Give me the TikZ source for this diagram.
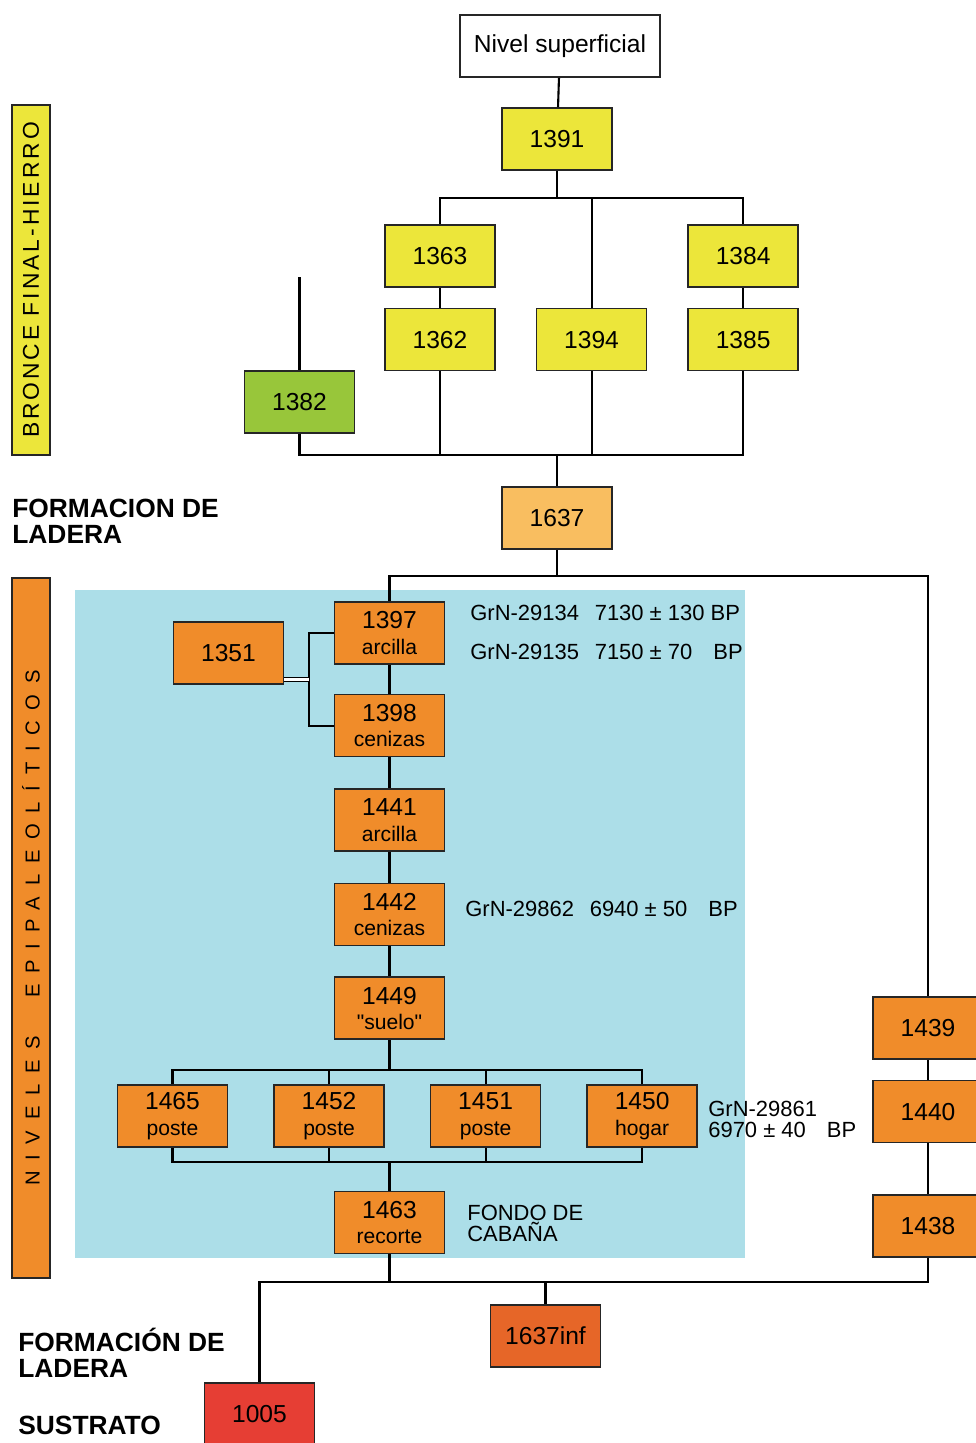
\documentclass[tikz,border=0pt]{standalone}
\usepackage{fontspec}
\setmainfont{Liberation Sans}
\usepackage{tikz}
\usetikzlibrary{positioning, calc, backgrounds}
\definecolor{ylw}{RGB}{236,230,58}
\definecolor{grn}{RGB}{152,198,58}
\definecolor{lorg}{RGB}{249,190,96}
\definecolor{org}{RGB}{240,140,42}
\definecolor{dorg}{RGB}{230,102,40}
\definecolor{redd}{RGB}{230,62,52}
\definecolor{bgblue}{RGB}{172,222,232}
\newcommand{\lyr}[1]{{\fontsize{12}{12}\selectfont #1}}
\tikzset{
  blk/.style={
    rectangle, draw=black!85, line width=0.9pt, inner sep=1pt,
    minimum width=2.2cm, minimum height=1.24cm, align=center,
    font=\fontsize{14}{14.5}\selectfont
  },
  yblk/.style={blk, fill=ylw},
  gblk/.style={blk, fill=grn},
  loblk/.style={blk, fill=lorg},
  oblk/.style={blk, fill=org},
  doblk/.style={blk, fill=dorg},
  rblk/.style={blk, fill=redd},
  wblk/.style={blk, fill=white, minimum width=4cm},
  lnk/.style={line width=1.2pt, black},
  sidelbl/.style={anchor=west, inner sep=0pt, align=left,
    font=\fontsize{15}{14.7}\selectfont\bfseries},
  datetxt/.style={anchor=west, inner sep=0pt, align=left,
    font=\fontsize{12.5}{12}\selectfont},
  perlbl/.style={rectangle, draw=black!85, line width=0.9pt, rotate=90,
    minimum height=0.76cm, inner sep=0pt}
}

\begin{document}
\begin{tikzpicture}[x=0.02cm, y=-0.02cm]
\useasboundingbox (0,0) rectangle (975,1443);

% Background of the hut levels
\begin{scope}[on background layer]
  \fill[bgblue] (75,590) rectangle (745,1258);
\end{scope}

% Period labels
\node[perlbl, fill=ylw, minimum width=7cm] (bronce) at (31,280)
  {\fontsize{13}{13}\selectfont\addfontfeatures{LetterSpace=13}BRONCE FINAL-HIERRO};
\node[perlbl, fill=org, minimum width=14cm] (niveles) at (31,928)
  {\fontsize{11.5}{12}\selectfont\addfontfeatures{LetterSpace=53}NIVELES\hspace{22pt}EPIPALEOLÍTICOS\hspace{10pt}};
\node[sidelbl] (formA) at (12,521) {FORMACION DE\\LADERA};
\node[sidelbl] (formB) at (18,1353) {FORMACIÓN DE\\LADERA};
\node[sidelbl] (sust)  at (18,1425) {SUSTRATO};

% Bronce final - Hierro
\node[wblk] (nivel) at (560,46) {Nivel superficial};
\node[yblk] (n1391) at (557,139) {1391};
\node[yblk] (n1363) at (440,256) {1363};
\node[yblk, below=0.4cm of n1363] (n1362) {1362};
\node[yblk, right=0.8cm of n1362] (n1394) {1394};
\node[yblk, right=0.8cm of n1394] (n1385) {1385};
\node[yblk, above=0.4cm of n1385] (n1384) {1384};
\node[gblk] (n1382) at (299.5,402) {1382};

% Formacion de ladera
\node[loblk] (n1637) at (557,518) {1637};

% Niveles epipaleoliticos
\node[oblk] (n1397) at (389.5,633) {1397\\\lyr{arcilla}};
\node[oblk, below=0.58cm of n1397] (n1398) {1398\\\lyr{cenizas}};
\node[oblk, below=0.62cm of n1398] (n1441) {1441\\\lyr{arcilla}};
\node[oblk, below=0.62cm of n1441] (n1442) {1442\\\lyr{cenizas}};
\node[oblk, below=0.6cm of n1442]  (n1449) {1449\\\lyr{\textquotedbl suelo\textquotedbl}};
\node[oblk] (n1351) at (228.5,653) {1351};
\node[oblk] (n1465) at (172.5,1116) {1465\\\lyr{poste}};
\node[oblk, right=0.9cm of n1465] (n1452) {1452\\\lyr{poste}};
\node[oblk, right=0.9cm of n1452] (n1451) {1451\\\lyr{poste}};
\node[oblk, right=0.9cm of n1451] (n1450) {1450\\\lyr{hogar}};
\node[oblk] (n1463) at (389.5,1222.5) {1463\\\lyr{recorte}};
\node[oblk] (n1439) at (928,1028) {1439};
\node[oblk, below=0.4cm of n1439]  (n1440) {1440};
\node[oblk, below=1.02cm of n1440] (n1438) {1438};

% Base
\node[doblk] (n1637inf) at (545.5,1336) {1637inf};
\node[rblk]  (n1005) at (259.5,1414) {1005};

% Dates
\node[datetxt] (d1) at (470,613) {GrN-29134\hspace{9pt}7130 ± 130 BP};
\node[datetxt] (d2) at (470,652) {GrN-29135\hspace{9pt}7150 ± 70\hspace{12pt}BP};
\node[datetxt] (d3) at (465,909) {GrN-29862\hspace{9pt}6940 ± 50\hspace{12pt}BP};
\node[datetxt] (d4) at (708,1119) {GrN-29861\\6970 ± 40\hspace{12pt}BP};
\node[datetxt] (fondo) at (467,1223) {FONDO DE\\CABAÑA};

% Junctions
\coordinate[below=0.54cm of n1391] (jA);
\coordinate[above=1.86cm of n1382] (j1382);
\coordinate[above=0.62cm of n1637] (jB);
\coordinate[above=0.5cm of n1397] (jC);
\coordinate (jG) at ($(n1397.west)!0.5!(n1398.west)+(-25,0)$);
\coordinate[below=0.6cm of n1449]  (jD);
\coordinate[above=0.58cm of n1463] (jE);
\coordinate[below=0.56cm of n1463] (jF);

% Connectors - Bronce
\draw[lnk] (nivel) -- (n1391);
\draw[lnk] (n1391) -- (jA);
\draw[lnk] (jA) -| (n1363);
\draw[lnk] (jA) -| (n1394);
\draw[lnk] (jA) -| (n1384);
\draw[lnk] (n1363) -- (n1362);
\draw[lnk] (n1384) -- (n1385);
\draw[lnk] (n1382) -- (j1382);
\draw[lnk] (n1382) |- (jB) -- (n1637);
\draw[lnk] (n1362) |- (jB);
\draw[lnk] (n1394) |- (jB);
\draw[lnk] (n1385) |- (jB);

% Connectors - Epipaleolitico
\draw[lnk] (n1637) -- (n1637 |- jC);
\draw[lnk] (n1397) -- (jC) -| (n1439);
\draw[lnk] (n1397.west) -| (jG) |- (n1398.west);
\draw[line width=0.7pt, double, double distance=1.4pt] (n1351.east |- jG) -- (jG);
\draw[lnk] (n1397) -- (n1398);
\draw[lnk] (n1398) -- (n1441);
\draw[lnk] (n1441) -- (n1442);
\draw[lnk] (n1442) -- (n1449);
\draw[lnk] (n1449) -- (jD);
\foreach \n in {n1465,n1452,n1451,n1450} {
  \draw[lnk] (\n) |- (jD);
  \draw[lnk] (\n) |- (jE);
}
\draw[lnk] (jE) -- (n1463);
\draw[lnk] (n1439) -- (n1440) -- (n1438);

% Connectors - Base
\draw[lnk] (n1463) -- (jF);
\draw[lnk] (n1005) |- (jF);
\draw[lnk] (n1637inf) |- (jF);
\draw[lnk] (n1438) |- (jF);

\end{tikzpicture}
\end{document}
